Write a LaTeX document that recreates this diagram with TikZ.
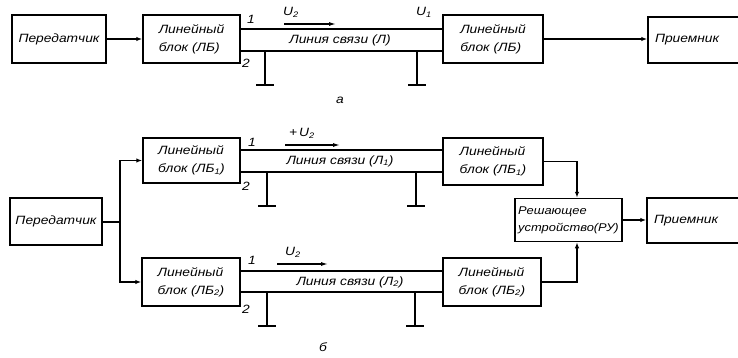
\documentclass[tikz,border=0pt]{standalone}
\usepackage{fontspec}
\setmainfont{Liberation Sans}[FakeStretch=1.15]
\usetikzlibrary{arrows.meta}
\begin{document}
\begin{tikzpicture}[x=1pt,y=-1pt,
  box/.style={draw,line width=1.5pt,inner sep=0pt,align=left,
    font=\itshape\fontsize{12}{18}\selectfont},
  conn/.style={line width=1.2pt},
  arr/.style={conn,-{Latex[length=6pt,width=4.5pt]}},
  uarr/.style={conn,-{Latex[length=7pt,width=4pt]}},
  lbl/.style={font=\itshape\fontsize{12}{13}\selectfont,inner sep=0pt},
  gnd/.pic={\draw[line width=1.2pt] (0,0) -- (0,34); \draw[line width=2pt] (-9,34) -- (9,34);}
]
\useasboundingbox (0,0) rectangle (738,358);
\clip (0,0) rectangle (738,358);
% ---------- a ----------
\node[box,minimum width=94pt,minimum height=48pt] (tx1) at (59,39) {Передатчик};
\node[box,minimum width=97pt,minimum height=48pt] (lbA) at (191.5,39) {Линейный\\блок (ЛБ)};
\node[box,minimum width=100pt,minimum height=48pt] (lbB) at (493,39) {Линейный\\блок (ЛБ)};
\node[box,minimum width=100pt,minimum height=46pt,text width=86pt] (rx1) at (698,40) {Приемник};
\draw[arr] (tx1.east) -- (lbA.west);
\draw[arr] (lbB.east) -- (rx1.west |- lbB.east);
\coordinate (ya1) at (0,29);
\coordinate (ya2) at (0,51);
\draw[conn] (lbA.east |- ya1) -- (lbB.west |- ya1);
\draw[conn] (lbA.east |- ya2) -- (lbB.west |- ya2);
\pic at (265,51) {gnd};
\pic at (417,51) {gnd};
\node[lbl] (na1) at (251,19) {1};
\node[lbl] (na2) at (246,63) {2};
\node[lbl] (ua2) at (291,12) {U\textsubscript{2}};
\node[lbl] (ua1) at (424,12) {U\textsubscript{1}};
\coordinate (aa1) at (284,24);
\coordinate (aa2) at (336,24);
\draw[uarr] (aa1) -- (aa2);
\node[lbl] (la) at (340,40) {Линия связи (Л)};
\node[lbl] (cap1) at (340,100) {а};
% ---------- б ----------
\node[box,minimum width=92pt,minimum height=47pt] (tx2) at (56,221.5) {Передатчик};
\node[box,minimum width=97pt,minimum height=45pt] (lb1) at (191.5,160.5) {Линейный\\блок (ЛБ\textsubscript{1})};
\node[box,minimum width=98pt,minimum height=48pt] (lb2) at (191,282) {Линейный\\блок (ЛБ\textsubscript{2})};
\node[box,minimum width=100pt,minimum height=47pt] (lb3) at (493,161.5) {Линейный\\блок (ЛБ\textsubscript{1})};
\node[box,minimum width=98pt,minimum height=48pt] (lb4) at (492,282) {Линейный\\блок (ЛБ\textsubscript{2})};
\node[box,minimum width=107pt,minimum height=43pt,font=\itshape\fontsize{11.2}{17}\selectfont] (ru) at (568.5,220) {Решающее\\устройство(РУ)};
\node[box,minimum width=100pt,minimum height=45pt,text width=86pt] (rx2) at (697,220.5) {Приемник};
\coordinate (sp) at (120,222);
\coordinate (xc) at (577,0);
\draw[conn] (tx2.east |- sp) -- (sp);
\draw[arr] (sp) |- (lb1.west);
\draw[arr] (sp) |- (lb2.west);
\draw[arr] (lb3.east) -| (ru.north -| xc);
\draw[arr] (lb4.east) -| (ru.south -| xc);
\draw[arr] (ru.east) -- (rx2.west |- ru.east);
\coordinate (yb1) at (0,150);
\coordinate (yb2) at (0,172);
\coordinate (yc1) at (0,271);
\coordinate (yc2) at (0,292);
\draw[conn] (lb1.east |- yb1) -- (lb3.west |- yb1);
\draw[conn] (lb1.east |- yb2) -- (lb3.west |- yb2);
\draw[conn] (lb2.east |- yc1) -- (lb4.west |- yc1);
\draw[conn] (lb2.east |- yc2) -- (lb4.west |- yc2);
\pic at (267,172) {gnd};
\pic at (416,172) {gnd};
\pic at (267,292) {gnd};
\pic at (415,292) {gnd};
\node[lbl] (nb1) at (252,142) {1};
\node[lbl] (nb2) at (246,186) {2};
\node[lbl] (nc1) at (252,260) {1};
\node[lbl] (nc2) at (246,309) {2};
\node[lbl] (ub) at (302,133) {+\,U\textsubscript{2}};
\coordinate (ab1) at (285,145);
\coordinate (ab2) at (340,145);
\draw[uarr] (ab1) -- (ab2);
\node[lbl] (uc) at (293,252) {U\textsubscript{2}};
\coordinate (ac1) at (277,264);
\coordinate (ac2) at (328,264);
\draw[uarr] (ac1) -- (ac2);
\node[lbl] (lb) at (340,161) {Линия связи (Л\textsubscript{1})};
\node[lbl] (lc) at (350,282) {Линия связи (Л\textsubscript{2})};
\node[lbl] (cap2) at (323,347) {б};
\end{tikzpicture}
\end{document}
